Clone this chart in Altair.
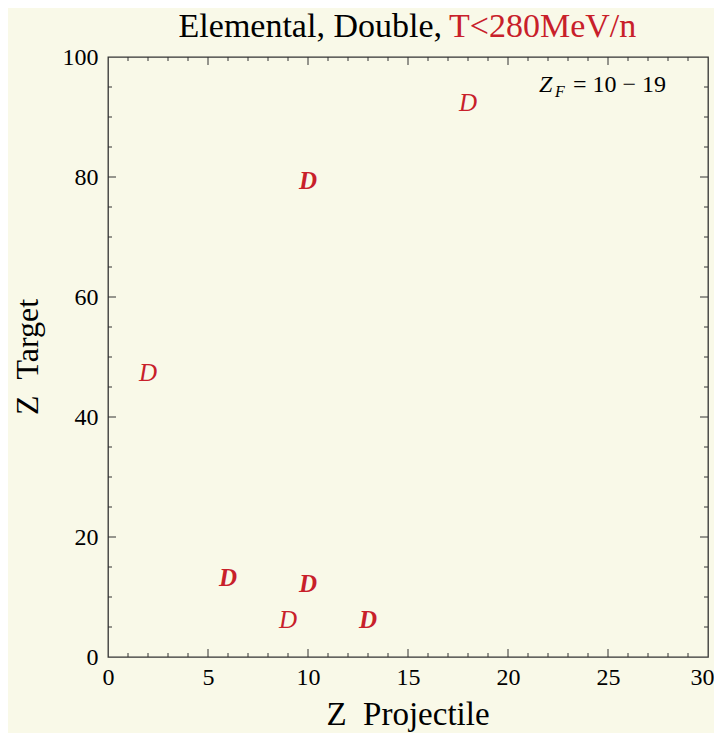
import altair as alt
import pandas as pd

# ---- data ----
proj_z = [18, 10, 2, 6, 10, 9, 13]
target_z = [92.3, 79.3, 47.3, 13.2, 12.2, 6.2, 6.2]
heavy = ["normal", "bold", "normal", "bold", "bold", "normal", "bold"]
marker = ["D"] * 7

x_label_values = [0, 5, 10, 15, 20, 25, 30]
y_label_values = [0, 20, 40, 60, 80, 100]
x_major_ticks = [5, 10, 15, 20, 25]
x_minor_ticks = [v for v in range(1, 30) if v % 5 != 0]
y_major_ticks = [20, 40, 60, 80]
y_minor_ticks = [v for v in range(5, 100, 5) if v % 20 != 0]

title_black = "Elemental, Double,"
title_red = "T<280MeV/n"
x_title = "Z\u2002Projectile"
y_title = "Z\u2002Target"
note_main = "Z"
note_sub = "F"
note_rest = "= 10 \u2212 19"

RED = "#c8202a"
BG = "#f9f9e8"
SERIF = "Liberation Serif"
W, H = 600, 600

xs = alt.Scale(domain=[0, 30], nice=False, zero=False)
ys = alt.Scale(domain=[0, 100], nice=False, zero=False)

df = pd.DataFrame({"proj": proj_z, "target": target_z, "w": heavy, "m": marker})

x_axis = alt.Axis(
    values=x_label_values, title="", ticks=False, domain=False, grid=False,
    labelFont=SERIF, labelFontSize=24, labelColor="black", labelPadding=8,
    labelFlush=False, labelOverlap=False,
    labelAlign=alt.expr("datum.value == 30 ? 'right' : 'center'"),
    labelOffset=alt.expr("datum.value == 30 ? 6 : 0"))
y_axis = alt.Axis(
    values=y_label_values, title="", ticks=False, domain=False, grid=False,
    labelFont=SERIF, labelFontSize=24, labelColor="black", labelPadding=10,
    labelFlush=False, labelOverlap=False)


def point_layer(weight):
    return alt.Chart(df).transform_filter(
        alt.datum.w == weight
    ).mark_text(
        font=SERIF, fontStyle="italic", fontSize=25, color=RED,
        align="center", baseline="middle", fontWeight=weight
    ).encode(
        x=alt.X("proj:Q", scale=xs, axis=x_axis),
        y=alt.Y("target:Q", scale=ys, axis=y_axis),
        text="m:N",
    )


def xticks(vals, length):
    d = pd.DataFrame({"proj": vals})
    base = alt.Chart(d).mark_rule(color="#333333", strokeWidth=1)
    bottom = base.encode(x=alt.X("proj:Q", scale=xs, axis=x_axis),
                         y=alt.value(H), y2=alt.value(H - length))
    top = base.encode(x=alt.X("proj:Q", scale=xs, axis=x_axis),
                      y=alt.value(0), y2=alt.value(length))
    return [bottom, top]


def yticks(vals, length):
    d = pd.DataFrame({"target": vals})
    base = alt.Chart(d).mark_rule(color="#333333", strokeWidth=1)
    left = base.encode(y=alt.Y("target:Q", scale=ys, axis=y_axis),
                       x=alt.value(0), x2=alt.value(length))
    right = base.encode(y=alt.Y("target:Q", scale=ys, axis=y_axis),
                        x=alt.value(W), x2=alt.value(W - length))
    return [left, right]


def label(text, x, y, size, color="black", style="normal", align="left", angle=0, baseline="alphabetic"):
    d = pd.DataFrame({"t": [text]})
    kw = dict(font=SERIF, fontSize=size, color=color, fontStyle=style,
              align=align, baseline=baseline)
    if angle:
        kw["angle"] = angle
    return alt.Chart(d).mark_text(**kw).encode(
        x=alt.value(x), y=alt.value(y), text="t:N")


texts = [
    label(title_black, 334, -20, 34, align="right"),
    label(title_red, 341, -20, 34, color=RED, align="left"),
    label(x_title, 300, 668, 33, align="center"),
    label(y_title, -70, 300, 32, align="center", angle=270),
    label(note_main, 431, 35, 24, style="italic"),
    label(note_sub, 447, 40, 16, style="italic"),
    label(note_rest, 465, 35, 24),
]

layers = [point_layer("normal"), point_layer("bold")] \
    + xticks(x_major_ticks, 8) + xticks(x_minor_ticks, 4) \
    + yticks(y_major_ticks, 8) + yticks(y_minor_ticks, 4) + texts

chart = alt.layer(*layers).properties(
    width=W, height=H,
    autosize=alt.AutoSizeParams(type="none"),
    padding={"left": 100, "top": 49, "right": 6, "bottom": 76},
).configure(background=BG).configure_view(
    stroke="#333333", strokeWidth=1.3
)

chart.save("out.html", embed_options={"renderer": "svg", "actions": False})
